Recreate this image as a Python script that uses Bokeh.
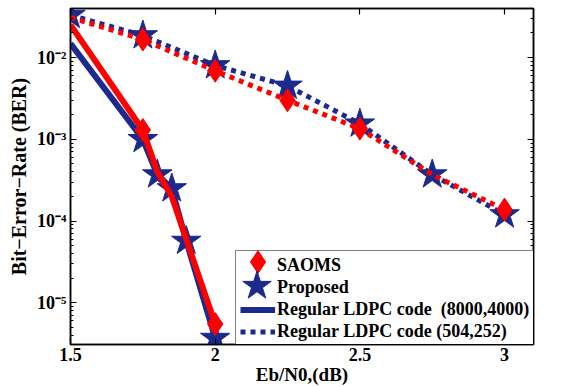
from bokeh.plotting import figure
from bokeh.models import (LogAxis, LinearAxis, FixedTicker, LogTicker,
                          CustomJSTickFormatter, Legend, LegendItem, Range1d)
from bokeh.embed import file_html
from bokeh.resources import INLINE

# ---- data ----
ebn0_long = [1.5, 1.75, 1.8, 1.85, 1.9, 2.0]          # (8000,4000) code
ber_prop_long = [0.0148, 1.0e-3, 3.7e-4, 2.5e-4, 5.7e-5, 3.7e-6]
ber_saoms_long = [0.025, 1.3e-3, 4.0e-4, 2.0e-4, 6.0e-5, 5.5e-6]
prop_long_marked = [1, 2, 3, 4, 5]                     # indices with stars
saoms_long_marked = [1, 5]                             # indices with diamonds

ebn0_short = [1.5, 1.75, 2.0, 2.25, 2.5, 2.75, 3.0]   # (504,252) code
ber_prop_short = [0.033, 0.0186, 0.008, 4.5e-3, 1.55e-3, 3.7e-4, 1.2e-4]
ber_saoms_short = [0.031, 0.0166, 6.9e-3, 3.0e-3, 1.35e-3, 3.7e-4, 1.38e-4]
prop_short_marked = [0, 1, 2, 3, 4, 5, 6]
saoms_short_marked = [1, 2, 3, 4, 6]

x_ticks = [1.5, 2, 2.5, 3]
x_tick_labels = ["1.5", "2", "2.5", "3"]
y_ticks = [1e-5, 1e-4, 1e-3, 1e-2]
y_tick_labels = ["10\u207b\u2075", "10\u207b\u2074", "10\u207b\u00b3", "10\u207b\u00b2"]

legend_labels = ["SAOMS", "Proposed", "Regular LDPC code  (8000,4000)",
                 "Regular LDPC code (504,252)"]

BLUE = "#1b2a8c"
RED = "#ff0000"
FONT = "Liberation Serif"

p = figure(width=582, height=387, y_axis_type="log",
           x_range=Range1d(1.5, 3.1), y_range=Range1d(10 ** -5.51, 10 ** -1.4),
           min_border_left=70, min_border_right=49, min_border_top=8,
           min_border_bottom=43, output_backend="svg", toolbar_location=None,
           background_fill_color="white", border_fill_color="white")
p.xgrid.visible = False
p.ygrid.visible = False
p.outline_line_color = "black"
p.outline_line_width = 1.5

def sub(arr, idx):
    return [arr[i] for i in idx]

# blue lines
bl_long = p.line(ebn0_long, ber_prop_long, line_color=BLUE, line_width=6)
bl_short = p.line(ebn0_short, ber_prop_short, line_color=BLUE, line_width=5,
                  line_dash="5 5")
# blue stars
st1 = p.scatter(sub(ebn0_long, prop_long_marked), sub(ber_prop_long, prop_long_marked),
                marker="star", size=31, fill_color=BLUE, line_color=BLUE)
st2 = p.scatter(sub(ebn0_short, prop_short_marked), sub(ber_prop_short, prop_short_marked),
                marker="star", size=31, fill_color=BLUE, line_color=BLUE)
# red lines
p.line(ebn0_short, ber_saoms_short, line_color=RED, line_width=5, line_dash="5 5")
p.line(ebn0_long, ber_saoms_long, line_color=RED, line_width=6)
# red diamonds
dm1 = p.scatter(sub(ebn0_long, saoms_long_marked), sub(ber_saoms_long, saoms_long_marked),
                marker="diamond", size=23, fill_color=RED, line_color=RED)
dm2 = p.scatter(sub(ebn0_short, saoms_short_marked), sub(ber_saoms_short, saoms_short_marked),
                marker="diamond", size=23, fill_color=RED, line_color=RED)

# invisible placeholders for legend rows whose symbols are drawn larger below
ph = p.scatter([], [], marker="circle", size=1, alpha=0)

y_fmt = CustomJSTickFormatter(args=dict(tv=y_ticks, tl=y_tick_labels), code="""
const i = tv.findIndex(t => Math.abs(Math.log10(t) - Math.log10(tick)) < 1e-6);
return i >= 0 ? tl[i] : "";
""")
x_fmt = CustomJSTickFormatter(args=dict(tv=x_ticks, tl=x_tick_labels), code="""
const i = tv.findIndex(t => Math.abs(t - tick) < 1e-6);
return i >= 0 ? tl[i] : "";
""")
blank = CustomJSTickFormatter(code="return '';")

def style(ax, show_minor=True):
    ax.major_tick_in = 6
    ax.major_tick_out = 0
    ax.minor_tick_in = 3 if show_minor else 0
    ax.minor_tick_out = 0
    if not show_minor:
        ax.minor_tick_line_color = None
    ax.axis_line_width = 1.5
    ax.major_tick_line_width = 1.2
    ax.major_label_text_font = FONT
    ax.major_label_text_font_style = "bold"
    ax.major_label_text_font_size = "18px"
    ax.major_label_text_color = "black"
    ax.axis_label_text_font = FONT
    ax.axis_label_text_font_style = "bold"
    ax.axis_label_text_font_size = "19px"
    ax.axis_label_text_color = "black"

yax = p.yaxis[0]
yax.ticker = LogTicker(num_minor_ticks=10)
yax.formatter = y_fmt
yax.axis_label = "Bit\u2212Error\u2212Rate (BER)"
yax.axis_label_standoff = 4
yax.major_label_standoff = 4
style(yax)
yax.axis_label_text_font_size = "20px"

xax = p.xaxis[0]
xax.ticker = FixedTicker(ticks=x_ticks)
xax.formatter = x_fmt
xax.axis_label = "Eb/N0,(dB)"
xax.axis_label_standoff = 0
xax.major_label_standoff = 3
style(xax, show_minor=False)

rax = LogAxis(ticker=LogTicker(num_minor_ticks=10), formatter=blank)
style(rax)
p.add_layout(rax, "right")
tax = LinearAxis(ticker=FixedTicker(ticks=x_ticks), formatter=blank)
style(tax, show_minor=False)
p.add_layout(tax, "above")

legend = Legend(items=[
    LegendItem(label=legend_labels[0], renderers=[ph]),
    LegendItem(label=legend_labels[1], renderers=[ph]),
    LegendItem(label=legend_labels[2], renderers=[bl_long]),
    LegendItem(label=legend_labels[3], renderers=[bl_short]),
], location=(165, -3))
legend.label_text_font = FONT
legend.label_text_font_style = "bold"
legend.label_text_font_size = "18px"
legend.label_text_color = "black"
legend.glyph_width = 35
legend.glyph_height = 21
legend.spacing = 1
legend.padding = 4
legend.label_standoff = 2
legend.margin = 0
legend.border_line_color = "black"
legend.border_line_width = 1.5
legend.background_fill_alpha = 1
p.add_layout(legend)

# large legend symbols (Bokeh draws legend markers at 0.4 x glyph box)
def symbol_legend(renderer, box, loc):
    lg = Legend(items=[LegendItem(label=" ", renderers=[renderer])], location=loc)
    lg.glyph_width = box
    lg.glyph_height = box
    lg.padding = 0
    lg.margin = 0
    lg.label_standoff = 0
    lg.label_text_font_size = "1px"
    lg.border_line_color = None
    lg.background_fill_alpha = 0
    return lg

p.add_layout(symbol_legend(dm2, 57, (159, 54)))
p.add_layout(symbol_legend(st2, 75, (149, 21)))

open("out.html", "w").write(file_html(p, INLINE))
